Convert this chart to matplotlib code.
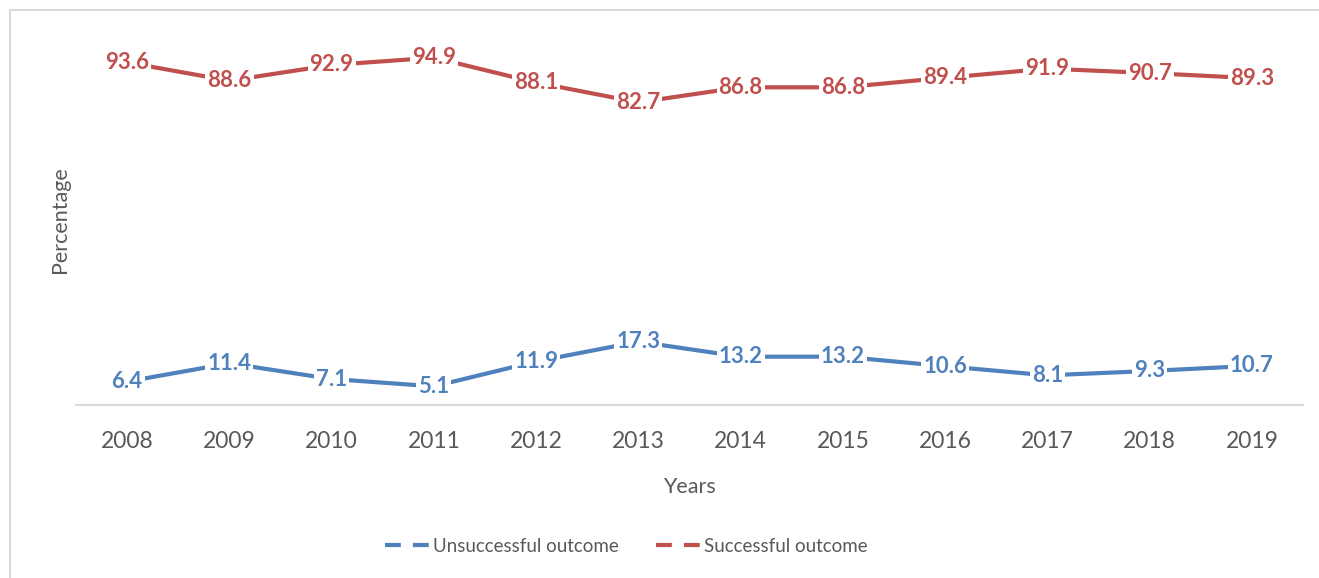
import matplotlib.pyplot as plt
from matplotlib.lines import Line2D
from matplotlib.patches import Rectangle

years = ['2008', '2009', '2010', '2011', '2012', '2013',
         '2014', '2015', '2016', '2017', '2018', '2019']
unsuccessful = [6.4, 11.4, 7.1, 5.1, 11.9, 17.3, 13.2, 13.2, 10.6, 8.1, 9.3, 10.7]
successful = [93.6, 88.6, 92.9, 94.9, 88.1, 82.7, 86.8, 86.8, 89.4, 91.9, 90.7, 89.3]

blue = '#4F81BD'
red = '#C0504D'
grey_text = '#595959'

plt.rcParams['font.family'] = ['Lato', 'DejaVu Sans']

fig = plt.figure(figsize=(13.19, 5.78), dpi=100)
ax = fig.add_axes([76 / 1319, 1 - 405 / 578, (1303 - 76) / 1319, (405 - 39) / 578])

# outer chart border (Excel chart area), cut off on right and bottom
fig.patches.append(Rectangle((10 / 1319, -0.1), 1.2, 1 - 10 / 578 + 0.1,
                             transform=fig.transFigure, fill=False,
                             edgecolor='#D9D9D9', linewidth=1.5))

x = range(len(years))
ax.plot(x, unsuccessful, color=blue, linewidth=3, solid_capstyle='butt', zorder=2)
ax.plot(x, successful, color=red, linewidth=3, solid_capstyle='butt', zorder=2)

for xi, v in zip(x, unsuccessful):
    ax.text(xi, v, f'{v:.1f}', ha='center', va='center', color=blue,
            fontsize=16, fontweight='bold', zorder=5, clip_on=False,
            bbox=dict(facecolor='white', edgecolor='none', pad=1.5))
for xi, v in zip(x, successful):
    ax.text(xi, v, f'{v:.1f}', ha='center', va='center', color=red,
            fontsize=16, fontweight='bold', zorder=5, clip_on=False,
            bbox=dict(facecolor='white', edgecolor='none', pad=1.5))

ax.set_xlim(-0.5, len(years) - 0.5)
ax.set_ylim(0, 100)
ax.set_xticks(list(x))
ax.set_xticklabels(years)
ax.set_yticks([])
ax.tick_params(axis='x', length=0, pad=19, labelsize=16.5, labelcolor=grey_text)
for side in ['left', 'right', 'top']:
    ax.spines[side].set_visible(False)
ax.spines['bottom'].set_color('#D9D9D9')
ax.spines['bottom'].set_linewidth(1.5)
ax.spines['bottom'].set_zorder(1)

ax.set_xlabel('Years', fontsize=15.5, color=grey_text, labelpad=18)
fig.text(60 / 1319, 1 - 220 / 578, 'Percentage', rotation=90, ha='center',
         va='center', fontsize=15.5, color=grey_text)

handles = [Line2D([], [], color=blue, linewidth=3, linestyle=(0, (3.8, 2.9))),
           Line2D([], [], color=red, linewidth=3, linestyle=(0, (3.8, 2.9)))]
fig.legend(handles, ['Unsuccessful outcome', 'Successful outcome'],
           loc='center', bbox_to_anchor=(626 / 1319, 1 - 546 / 578), ncol=2,
           frameon=False, fontsize=13.5, handlelength=2.4, handletextpad=0.15,
           columnspacing=2.0, labelcolor=grey_text)

fig.savefig('out.png', dpi=100)
